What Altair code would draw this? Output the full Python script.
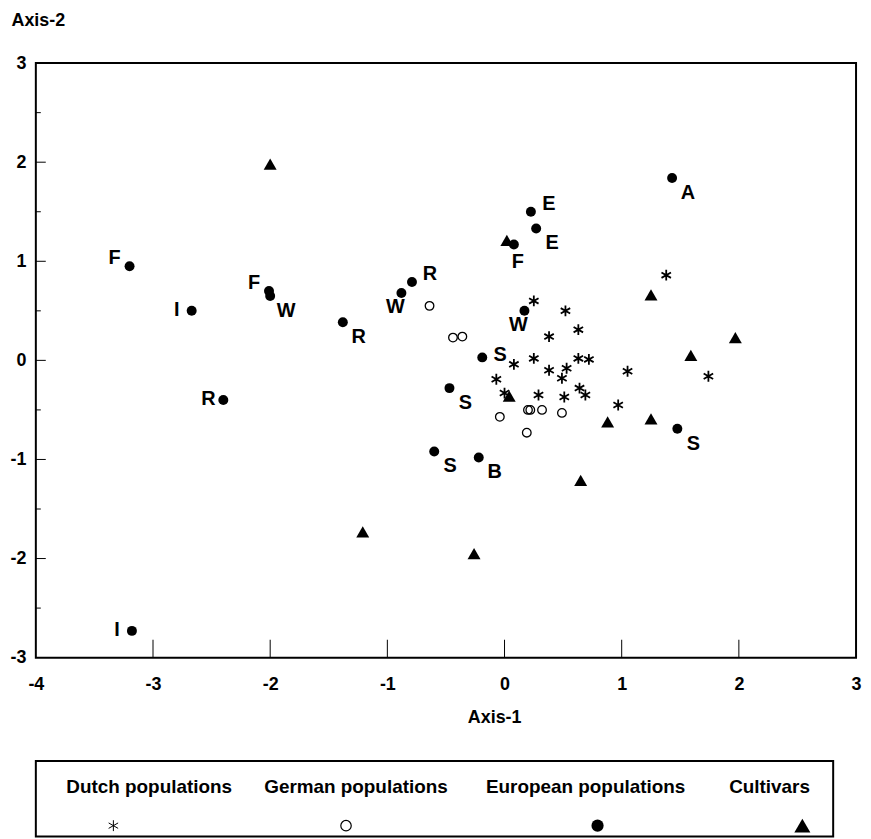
import altair as alt
import pandas as pd

FONT = "Liberation Sans"

# ---------------- data ----------------
# Dutch populations (asterisks)
dutch_x = [0.25, 0.52, 0.63, 0.38, 0.25, 0.08, 0.63, 0.72, 0.38, 0.53, 0.49,
           -0.07, 0.64, 0.69, 0.29, 0.51, 1.38, 1.05, 1.74, 0.97, 0.00]
dutch_y = [0.60, 0.50, 0.31, 0.24, 0.02, -0.04, 0.02, 0.01, -0.10, -0.08, -0.18,
           -0.19, -0.28, -0.35, -0.35, -0.37, 0.86, -0.11, -0.16, -0.45, -0.33]

# German populations (open circles)
german_x = [-0.64, -0.44, -0.36, -0.04, 0.19, 0.20, 0.22, 0.32, 0.49]
german_y = [0.55, 0.23, 0.24, -0.57, -0.73, -0.50, -0.50, -0.50, -0.53]

# European populations (filled dots with letter codes)
europe_x = [-3.20, -2.67, -2.01, -2.00, -1.38, -2.40, -3.18, -0.79, -0.88, 0.17,
            -0.19, -0.47, -0.60, -0.22, 0.225, 0.27, 0.08, 1.43, 1.475]
europe_y = [0.95, 0.50, 0.70, 0.65, 0.385, -0.40, -2.73, 0.79, 0.68, 0.50,
            0.03, -0.28, -0.92, -0.98, 1.50, 1.33, 1.17, 1.84, -0.69]
europe_code = ["F", "I", "F", "W", "R", "R", "I", "R", "W", "W",
               "S", "S", "S", "B", "E", "E", "F", "A", "S"]
# side of the dot on which each code is written
europe_side = ["NW", "W", "NW", "SE", "SE", "W", "W", "NE", "SW", "SW",
               "E", "SE", "SE", "SE", "NE", "SE", "S", "SE", "SE"]

# Cultivars (filled triangles)
cult_x = [-2.00, 0.02, 1.25, 1.97, 1.59, 0.04, 0.88, 1.25, 0.65, -1.21, -0.26]
cult_y = [1.98, 1.21, 0.66, 0.23, 0.05, -0.36, -0.62, -0.59, -1.21, -1.73, -1.95]

x_labels = [-4, -3, -2, -1, 0, 1, 2, 3]
y_labels = [-3, -2, -1, 0, 1, 2, 3]
x_major_ticks = [-3, -2, -1, 0, 1, 2]
y_major_ticks = [-2, -1, 0, 1, 2]
y_minor_ticks = [-2.5, -1.5, -0.5, 0.5, 1.5, 2.5]

legend_groups = ["Dutch populations", "German populations",
                 "European populations", "Cultivars"]

# ---------------- styling ----------------
W, H = 825, 598
ASTERISK = "M0,-1L0,1M-0.87,-0.5L0.87,0.5M-0.87,0.5L0.87,-0.5"
SIDE_OFFSET = {"NW": (-15, -8), "W": (-15, -1), "SE": (16, 15), "NE": (18, -8),
               "SW": (-6, 14), "E": (18, -2), "S": (4, 18)}

xs = alt.Scale(domain=[-4, 3], nice=False, zero=False)
ys = alt.Scale(domain=[-3, 3], nice=False, zero=False)

x_axis = alt.Axis(values=x_labels, labelExpr="'' + datum.value", ticks=False,
                  domain=False, grid=False, labelFont=FONT, labelFontSize=18,
                  labelFontWeight="bold", labelColor="black", labelPadding=18,
                  labelFlush=False, title="Axis-1", titleFont=FONT,
                  titleFontSize=18, titleFontWeight="bold", titleColor="black",
                  titleX=461, titleY=60, titleBaseline="middle", titleAlign="center")
y_axis = alt.Axis(values=y_labels, labelExpr="'' + datum.value", ticks=False,
                  domain=False, grid=False, labelFont=FONT, labelFontSize=18,
                  labelFontWeight="bold", labelColor="black", labelPadding=10,
                  labelFlush=False,
                  title="Axis-2", titleFont=FONT, titleFontSize=18,
                  titleFontWeight="bold", titleColor="black", titleAngle=0,
                  titleX=-25, titleY=-43, titleAlign="left", titleBaseline="middle")

dutch = pd.DataFrame({"x": dutch_x, "y": dutch_y})
german = pd.DataFrame({"x": german_x, "y": german_y})
europe = pd.DataFrame({"x": europe_x, "y": europe_y, "code": europe_code,
                       "side": europe_side})
cult = pd.DataFrame({"x": cult_x, "y": cult_y})

cult_layer = alt.Chart(cult).mark_point(
    shape="triangle-up", filled=True, color="black", size=170, opacity=1
).encode(x=alt.X("x:Q", scale=xs, axis=x_axis), y=alt.Y("y:Q", scale=ys, axis=y_axis))


def pts(df):
    return alt.Chart(df).encode(x=alt.X("x:Q", scale=xs),
                                y=alt.Y("y:Q", scale=ys))


dutch_layer = pts(dutch).mark_point(shape=ASTERISK, filled=False, color="black",
                                    strokeWidth=1.8, size=120, opacity=1)
german_layer = pts(german).mark_point(shape="circle", filled=False, color="black",
                                      strokeWidth=1.3, size=75, opacity=1)
europe_layer = pts(europe).mark_point(shape="circle", filled=True, color="black",
                                      size=100, opacity=1)

label_layers = []
for side, (dx, dy) in SIDE_OFFSET.items():
    label_layers.append(
        pts(europe).transform_filter(alt.datum.side == side).mark_text(
            dx=dx, dy=dy, font=FONT, fontSize=20, fontWeight="bold",
            color="black", align="center", baseline="middle"
        ).encode(text="code:N")
    )

xt = alt.Chart(pd.DataFrame({"x": x_major_ticks})).mark_rule(
    color="black", strokeWidth=1
).encode(x=alt.X("x:Q", scale=xs), y=alt.value(H), y2=alt.value(H - 18))
yt_major = alt.Chart(pd.DataFrame({"y": y_major_ticks})).mark_rule(
    color="black", strokeWidth=1
).encode(y=alt.Y("y:Q", scale=ys), x=alt.value(0), x2=alt.value(10))
yt_minor = alt.Chart(pd.DataFrame({"y": y_minor_ticks})).mark_rule(
    color="black", strokeWidth=1
).encode(y=alt.Y("y:Q", scale=ys), x=alt.value(0), x2=alt.value(5))

main = alt.layer(cult_layer, xt, yt_major, yt_minor, dutch_layer, german_layer,
                 europe_layer, *label_layers).properties(width=W, height=H)

# ---------------- legend box ----------------
leg = pd.DataFrame({"group": legend_groups})
lx = alt.X("group:N", scale=alt.Scale(type="point", domain=legend_groups,
                                      range=[114, 738], padding=0), axis=None)
label_dx = {"Dutch populations": 0, "German populations": 0,
            "European populations": 23, "Cultivars": 0}
symbol_dx = {"Dutch populations": -36, "German populations": -10,
             "European populations": 35, "Cultivars": 33}
symbol_mark = {
    "Dutch populations": dict(shape=ASTERISK, filled=False, strokeWidth=1, size=120),
    "German populations": dict(shape="circle", filled=False, strokeWidth=1.2, size=110),
    "European populations": dict(shape="circle", filled=True, size=150),
    "Cultivars": dict(shape="triangle-up", filled=True, size=260),
}
leg_layers = []
for g in legend_groups:
    base = alt.Chart(leg).transform_filter(alt.datum.group == g)
    leg_layers.append(base.mark_text(
        dx=label_dx[g], font=FONT, fontSize=19, fontWeight="bold", color="black",
        align="center", baseline="middle").encode(x=lx, y=alt.value(26), text="group:N"))
    leg_layers.append(base.mark_point(color="black", opacity=1, **symbol_mark[g]).encode(
        x=lx, y=alt.value(65), xOffset=alt.value(symbol_dx[g])))

legend = alt.layer(*leg_layers).properties(width=802, height=76)

chart = alt.vconcat(main, legend, spacing=33).properties(
    padding={"left": 0, "top": 0, "right": 0, "bottom": 0}
).configure(font=FONT).configure_view(stroke="black", strokeWidth=2)

chart.save("out.html", embed_options={"renderer": "svg", "actions": False})
